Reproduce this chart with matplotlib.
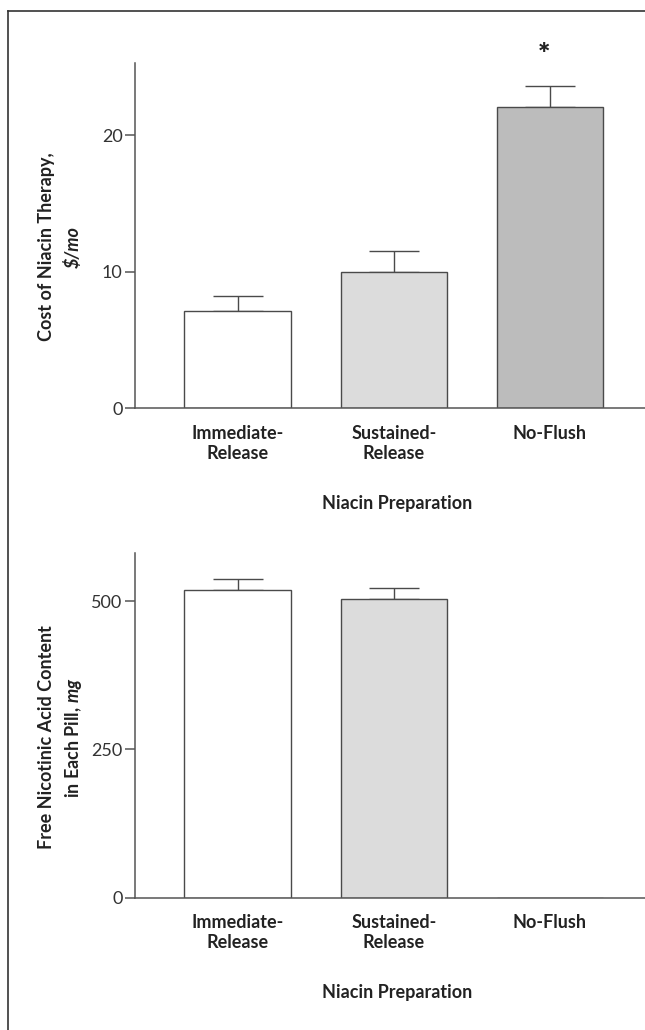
import numpy as np
import matplotlib
matplotlib.use("Agg")
import matplotlib.pyplot as plt
from matplotlib.lines import Line2D

plt.rcParams["font.family"] = ["Lato", "DejaVu Sans"]
plt.rcParams["mathtext.fontset"] = "custom"
plt.rcParams["mathtext.bfit"] = "Lato:italic:bold"
plt.rcParams["mathtext.it"] = "Lato:italic"
plt.rcParams["mathtext.rm"] = "Lato"

# ---------- data ----------
categories = ["Immediate-\nRelease", "Sustained-\nRelease", "No-Flush"]
bar_colors = ["#ffffff", "#dcdcdc", "#bcbcbc"]

cost_values = [7.1, 10.0, 22.05]      # $/mo
cost_err = [1.1, 1.5, 1.6]

acid_values = [519, 504, 0]           # mg
acid_err = [18, 18, 0]

cost_ticks = [0, 10, 20]
acid_ticks = [0, 250, 500]

AXC = "#555555"
EDGE = "#4a4a4a"
TXT = "#222222"
FS = 13

fig = plt.figure(figsize=(6.45, 10.3), dpi=100)

# 画框：上边 + 左边
fig.add_artist(Line2D([8.3/645, 1.0], [1 - 10.7/1030]*2, color="#333333", lw=1.2,
                      transform=fig.transFigure))
fig.add_artist(Line2D([8.3/645]*2, [1 - 10.7/1030, 0.0], color="#333333", lw=1.2,
                      transform=fig.transFigure))

ax1 = fig.add_axes([135/645, 1 - 408.3/1030, 510/645, 345.3/1030])
ax2 = fig.add_axes([135/645, 1 - 897.7/1030, 510/645, 344.7/1030])

x = np.arange(len(categories))


def style_axis(ax, ymax, ticks):
    ax.set_xlim(-0.656, 2.608)
    ax.set_ylim(0, ymax)
    for s in ("top", "right"):
        ax.spines[s].set_visible(False)
    for s in ("left", "bottom"):
        ax.spines[s].set_color(AXC)
        ax.spines[s].set_linewidth(1.1)
    ax.set_yticks(ticks)
    ax.set_xticks(x)
    ax.set_xticklabels(categories, fontsize=FS, fontweight="bold", color=TXT,
                       linespacing=1.2)
    ax.tick_params(axis="x", length=0, pad=12)
    ax.tick_params(axis="y", length=7, width=1.1, color=AXC, pad=2,
                   labelsize=FS, labelcolor="#333333")
    ax.set_xlabel("Niacin Preparation", fontsize=FS, fontweight="bold", color=TXT)
    ax.xaxis.set_label_coords(0.514, -0.25)
    ax.xaxis.label.set_va("top")


def draw_bars(ax, vals, errs):
    ax.bar(x, vals, width=0.68, color=bar_colors, edgecolor=EDGE, linewidth=1.0,
           zorder=2)
    for xi, v, e in zip(x, vals, errs):
        if v > 0:
            ax.errorbar(xi, v, yerr=[[0], [e]], fmt="none", ecolor=EDGE,
                        elinewidth=1.0, capsize=18, capthick=1.0, zorder=1)


# 上图：费用
draw_bars(ax1, cost_values, cost_err)
style_axis(ax1, 25.3, cost_ticks)
ax1.text(x[2] - 0.04, 25.9, "*", ha="center", va="center", fontsize=21,
         fontweight="heavy", color=TXT, clip_on=False)

# 下图：游离烟酸含量
draw_bars(ax2, acid_values, acid_err)
style_axis(ax2, 581, acid_ticks)

# y 轴标题（两行，第二行粗斜体）
fig.text(47/645, 1 - 247/1030, "Cost of Niacin Therapy,", rotation=90,
         ha="center", va="center", fontsize=FS, fontweight="bold", color=TXT)
fig.text(73/645, 1 - 247/1030, r"\$/mo", rotation=90, ha="center", va="center",
         fontsize=FS, fontweight="bold", fontstyle="italic", color=TXT)

fig.text(47/645, 1 - 737.5/1030, "Free Nicotinic Acid Content", rotation=90,
         ha="center", va="center", fontsize=FS, fontweight="bold", color=TXT)
fig.text(73/645, 1 - 737.5/1030, r"in Each Pill, $\mathbfit{mg}$", rotation=90,
         ha="center", va="center", fontsize=FS, fontweight="bold", color=TXT)

fig.savefig("out.png", dpi=100, facecolor="white")
